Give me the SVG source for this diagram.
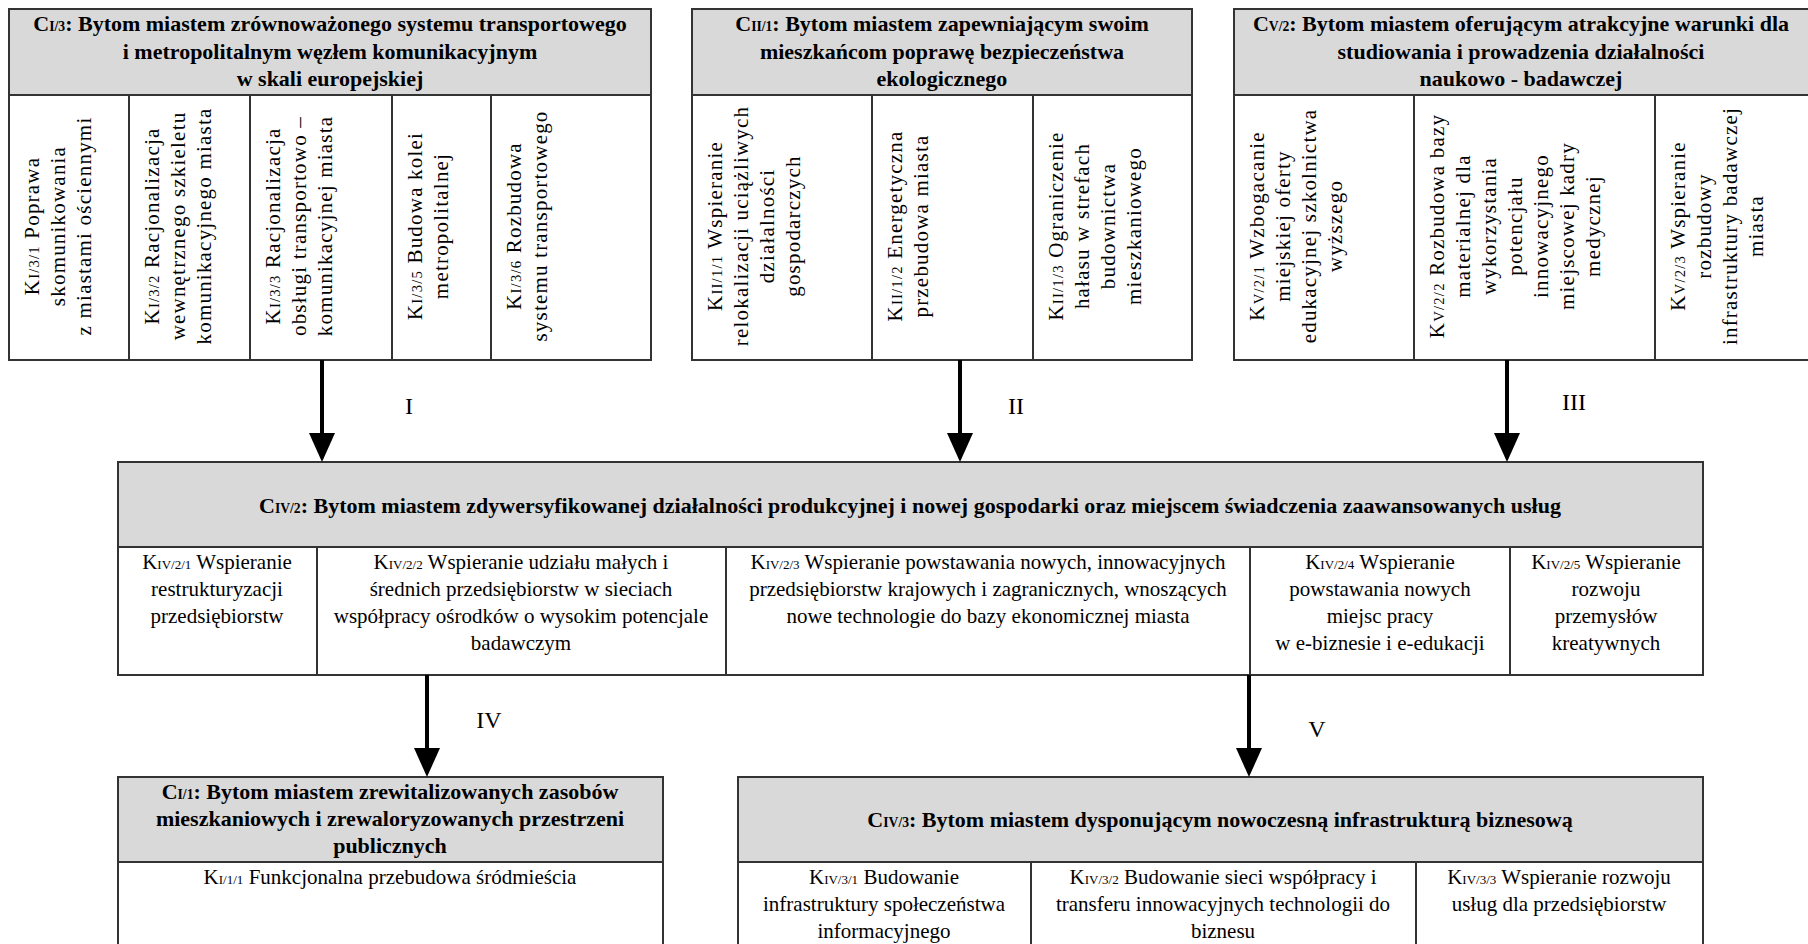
<svg xmlns="http://www.w3.org/2000/svg" width="1808" height="944" viewBox="0 0 1808 944">
<defs>
<style>
.bg{fill:#ffffff}
.box{fill:#ffffff;stroke:#333333;stroke-width:2}
.hdr{fill:#d9d9d9;stroke:#333333;stroke-width:2}
.dv{stroke:#333333;stroke-width:2}
.h{font-family:"Liberation Serif","DejaVu Serif",serif;font-weight:bold;font-size:22px;text-anchor:middle;fill:#000}
.t{font-family:"Liberation Serif","DejaVu Serif",serif;font-size:21px;text-anchor:middle;fill:#000}
.v{font-family:"Liberation Serif","DejaVu Serif",serif;font-size:21px;letter-spacing:1.2px;text-anchor:middle;fill:#000}
.s{font-size:0.62em}
.v .s{font-size:0.7em}
.num{font-family:"Liberation Serif","DejaVu Serif",serif;font-size:24px;text-anchor:middle;fill:#000}
.conn line{stroke:#000;stroke-width:4;marker-end:url(#ah)}
</style>
<marker id="ah" markerUnits="userSpaceOnUse" markerWidth="29" markerHeight="26" refX="23" refY="13" orient="auto" viewBox="0 0 29 26">
<path d="M0,0 L29,13 L0,26 Z" fill="#000"/>
</marker>
</defs>
<rect class="bg" x="0" y="0" width="1808" height="944"/>

<g id="c13">
<rect class="box" x="9" y="9" width="642" height="351"/>
<rect class="hdr" x="9" y="9" width="642" height="86"/>
<line class="dv" x1="129" y1="95" x2="129" y2="360"/>
<line class="dv" x1="250" y1="95" x2="250" y2="360"/>
<line class="dv" x1="392" y1="95" x2="392" y2="360"/>
<line class="dv" x1="491" y1="95" x2="491" y2="360"/>
<text class="h" x="330" y="31">C<tspan class="s">I/3</tspan>: Bytom miastem zrównoważonego systemu transportowego<tspan x="330" dy="27.5">i metropolitalnym węzłem komunikacyjnym</tspan><tspan x="330" dy="27.5">w skali europejskiej</tspan></text>
<text class="v" transform="translate(39,226) rotate(-90)"><tspan x="0" y="0">K<tspan class="s">I/3/1</tspan> Poprawa</tspan><tspan x="0" dy="26">skomunikowania</tspan><tspan x="0" dy="26">z miastami ościennymi</tspan></text>
<text class="v" transform="translate(159,226) rotate(-90)"><tspan x="0" y="0">K<tspan class="s">I/3/2</tspan> Racjonalizacja</tspan><tspan x="0" dy="26">wewnętrznego szkieletu</tspan><tspan x="0" dy="26">komunikacyjnego miasta</tspan></text>
<text class="v" transform="translate(280,226) rotate(-90)"><tspan x="0" y="0">K<tspan class="s">I/3/3</tspan> Racjonalizacja</tspan><tspan x="0" dy="26">obsługi transportowo –</tspan><tspan x="0" dy="26">komunikacyjnej miasta</tspan></text>
<text class="v" transform="translate(422,226) rotate(-90)"><tspan x="0" y="0">K<tspan class="s">I/3/5</tspan> Budowa kolei</tspan><tspan x="0" dy="26">metropolitalnej</tspan></text>
<text class="v" transform="translate(521,226) rotate(-90)"><tspan x="0" y="0">K<tspan class="s">I/3/6</tspan> Rozbudowa</tspan><tspan x="0" dy="26">systemu transportowego</tspan></text>
</g>

<g id="c21">
<rect class="box" x="692" y="9" width="500" height="351"/>
<rect class="hdr" x="692" y="9" width="500" height="86"/>
<line class="dv" x1="872" y1="95" x2="872" y2="360"/>
<line class="dv" x1="1033" y1="95" x2="1033" y2="360"/>
<text class="h" x="942" y="31">C<tspan class="s">II/1</tspan>: Bytom miastem zapewniającym swoim<tspan x="942" dy="27.5">mieszkańcom poprawę bezpieczeństwa</tspan><tspan x="942" dy="27.5">ekologicznego</tspan></text>
<text class="v" transform="translate(722,226) rotate(-90)"><tspan x="0" y="0">K<tspan class="s">II/1/1</tspan> Wspieranie</tspan><tspan x="0" dy="26">relokalizacji uciążliwych</tspan><tspan x="0" dy="26">działalności</tspan><tspan x="0" dy="26">gospodarczych</tspan></text>
<text class="v" transform="translate(902,226) rotate(-90)"><tspan x="0" y="0">K<tspan class="s">II/1/2</tspan> Energetyczna</tspan><tspan x="0" dy="26">przebudowa miasta</tspan></text>
<text class="v" transform="translate(1063,226) rotate(-90)"><tspan x="0" y="0">K<tspan class="s">II/1/3</tspan> Ograniczenie</tspan><tspan x="0" dy="26">hałasu w strefach</tspan><tspan x="0" dy="26">budownictwa</tspan><tspan x="0" dy="26">mieszkaniowego</tspan></text>
</g>

<g id="c52">
<rect class="box" x="1234" y="9" width="576" height="351"/>
<rect class="hdr" x="1234" y="9" width="576" height="86"/>
<line class="dv" x1="1414" y1="95" x2="1414" y2="360"/>
<line class="dv" x1="1655" y1="95" x2="1655" y2="360"/>
<text class="h" x="1521" y="31">C<tspan class="s">V/2</tspan>: Bytom miastem oferującym atrakcyjne warunki dla<tspan x="1521" dy="27.5">studiowania i prowadzenia działalności</tspan><tspan x="1521" dy="27.5">naukowo - badawczej</tspan></text>
<text class="v" transform="translate(1264,226) rotate(-90)"><tspan x="0" y="0">K<tspan class="s">V/2/1</tspan> Wzbogacanie</tspan><tspan x="0" dy="26">miejskiej oferty</tspan><tspan x="0" dy="26">edukacyjnej szkolnictwa</tspan><tspan x="0" dy="26">wyższego</tspan></text>
<text class="v" transform="translate(1444,226) rotate(-90)"><tspan x="0" y="0">K<tspan class="s">V/2/2</tspan> Rozbudowa bazy</tspan><tspan x="0" dy="26">materialnej dla</tspan><tspan x="0" dy="26">wykorzystania</tspan><tspan x="0" dy="26">potencjału</tspan><tspan x="0" dy="26">innowacyjnego</tspan><tspan x="0" dy="26">miejscowej kadry</tspan><tspan x="0" dy="26">medycznej</tspan></text>
<text class="v" transform="translate(1685,226) rotate(-90)"><tspan x="0" y="0">K<tspan class="s">V/2/3</tspan> Wspieranie</tspan><tspan x="0" dy="26">rozbudowy</tspan><tspan x="0" dy="26">infrastruktury badawczej</tspan><tspan x="0" dy="26">miasta</tspan></text>
</g>

<g id="c42">
<rect class="box" x="118" y="462" width="1585" height="213"/>
<rect class="hdr" x="118" y="462" width="1585" height="85"/>
<line class="dv" x1="317" y1="547" x2="317" y2="675"/>
<line class="dv" x1="726" y1="547" x2="726" y2="675"/>
<line class="dv" x1="1250" y1="547" x2="1250" y2="675"/>
<line class="dv" x1="1510" y1="547" x2="1510" y2="675"/>
<text class="h" x="910" y="513">C<tspan class="s">IV/2</tspan>: Bytom miastem zdywersyfikowanej działalności produkcyjnej i nowej gospodarki oraz miejscem świadczenia zaawansowanych usług</text>
<text class="t" x="217" y="569">K<tspan class="s">IV/2/1</tspan> Wspieranie<tspan x="217" dy="27">restrukturyzacji</tspan><tspan x="217" dy="27">przedsiębiorstw</tspan></text>
<text class="t" x="521" y="569">K<tspan class="s">IV/2/2</tspan> Wspieranie udziału małych i<tspan x="521" dy="27">średnich przedsiębiorstw w sieciach</tspan><tspan x="521" dy="27">współpracy ośrodków o wysokim potencjale</tspan><tspan x="521" dy="27">badawczym</tspan></text>
<text class="t" x="988" y="569">K<tspan class="s">IV/2/3</tspan> Wspieranie powstawania nowych, innowacyjnych<tspan x="988" dy="27">przedsiębiorstw krajowych i zagranicznych, wnoszących</tspan><tspan x="988" dy="27">nowe technologie do bazy ekonomicznej miasta</tspan></text>
<text class="t" x="1380" y="569">K<tspan class="s">IV/2/4</tspan> Wspieranie<tspan x="1380" dy="27">powstawania nowych</tspan><tspan x="1380" dy="27">miejsc pracy</tspan><tspan x="1380" dy="27">w e-biznesie i e-edukacji</tspan></text>
<text class="t" x="1606" y="569">K<tspan class="s">IV/2/5</tspan> Wspieranie<tspan x="1606" dy="27">rozwoju</tspan><tspan x="1606" dy="27">przemysłów</tspan><tspan x="1606" dy="27">kreatywnych</tspan></text>
</g>

<g id="c11">
<rect class="box" x="118" y="777" width="545" height="180"/>
<rect class="hdr" x="118" y="777" width="545" height="85"/>
<text class="h" x="390" y="799">C<tspan class="s">I/1</tspan>: Bytom miastem zrewitalizowanych zasobów<tspan x="390" dy="27">mieszkaniowych i zrewaloryzowanych przestrzeni</tspan><tspan x="390" dy="27">publicznych</tspan></text>
<text class="t" x="390" y="884">K<tspan class="s">I/1/1</tspan> Funkcjonalna przebudowa śródmieścia</text>
</g>

<g id="c43">
<rect class="box" x="738" y="777" width="965" height="180"/>
<rect class="hdr" x="738" y="777" width="965" height="85"/>
<line class="dv" x1="1031" y1="862" x2="1031" y2="957"/>
<line class="dv" x1="1416" y1="862" x2="1416" y2="957"/>
<text class="h" x="1220" y="827">C<tspan class="s">IV/3</tspan>: Bytom miastem dysponującym nowoczesną infrastrukturą biznesową</text>
<text class="t" x="884" y="884">K<tspan class="s">IV/3/1</tspan> Budowanie<tspan x="884" dy="27">infrastruktury społeczeństwa</tspan><tspan x="884" dy="27">informacyjnego</tspan></text>
<text class="t" x="1223" y="884">K<tspan class="s">IV/3/2</tspan> Budowanie sieci współpracy i<tspan x="1223" dy="27">transferu innowacyjnych technologii do</tspan><tspan x="1223" dy="27">biznesu</tspan></text>
<text class="t" x="1559" y="884">K<tspan class="s">IV/3/3</tspan> Wspieranie rozwoju<tspan x="1559" dy="27">usług dla przedsiębiorstw</tspan></text>
</g>

<g id="connectors" class="conn">
<line x1="322" y1="360" x2="322" y2="456"/>
<line x1="960" y1="360" x2="960" y2="456"/>
<line x1="1507" y1="360" x2="1507" y2="456"/>
<line x1="427" y1="675" x2="427" y2="771"/>
<line x1="1249" y1="675" x2="1249" y2="771"/>
<text class="num" x="409" y="414">I</text>
<text class="num" x="1016" y="414">II</text>
<text class="num" x="1574" y="410">III</text>
<text class="num" x="489" y="728">IV</text>
<text class="num" x="1317" y="737">V</text>
</g>
</svg>
